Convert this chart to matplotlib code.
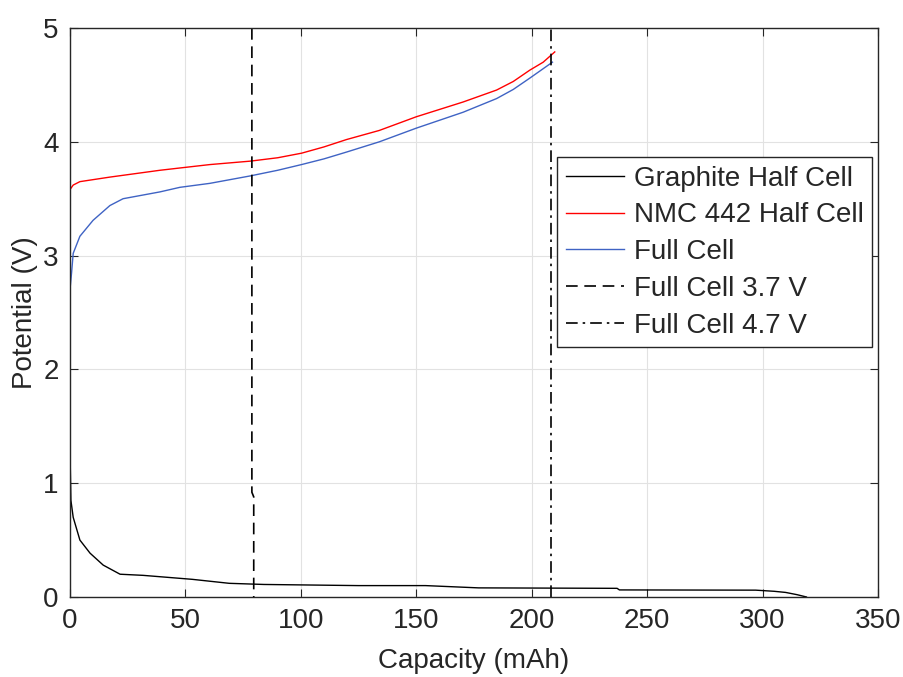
import matplotlib
matplotlib.use('Agg')
import matplotlib.pyplot as plt
import numpy as np

plt.rcParams['font.family'] = ['Liberation Sans', 'DejaVu Sans']

# graphite half cell (capacity in mAh, potential in V)
cap_graphite = [0, 0.4, 1.4, 4.3, 8.7, 14.4, 21.7, 31.7, 53, 69, 84, 125, 154,
                177, 237, 238, 297, 305, 310, 315, 319]
v_graphite = [1.3, 0.85, 0.70, 0.50, 0.385, 0.28, 0.20, 0.19, 0.155, 0.12, 0.11,
              0.10, 0.10, 0.08, 0.076, 0.062, 0.06, 0.05, 0.04, 0.02, 0.0]

# NMC 442 half cell
cap_nmc = [0, 0, 1.4, 4.3, 17.3, 39, 47.6, 60.6, 78, 90, 100.3, 110, 119.8, 134,
           150, 170.3, 184.8, 192, 199.2, 205, 210]
v_nmc = [2.72, 3.58, 3.62, 3.65, 3.69, 3.75, 3.77, 3.80, 3.83, 3.86, 3.90, 3.955,
         4.02, 4.10, 4.22, 4.35, 4.455, 4.53, 4.63, 4.70, 4.79]

# full cell
cap_full = [0, 0, 0.7, 1.4, 4.3, 10, 17.3, 23, 39, 47.6, 60.6, 78, 90, 100.3,
            110, 119.8, 134, 150, 170.3, 184.8, 192, 199.2, 209]
v_full = [1.3, 2.7, 2.85, 3.02, 3.17, 3.31, 3.44, 3.50, 3.56, 3.60, 3.635, 3.70,
          3.75, 3.80, 3.85, 3.91, 4.00, 4.12, 4.26, 4.38, 4.46, 4.56, 4.70]

# cut-off lines
cap_37 = [78.8, 78.8, 79.6, 79.6]
v_37 = [5, 0.92, 0.88, 0]
cap_47 = [208.5, 208.5]
v_47 = [0, 5]

fig = plt.figure(figsize=(9.04, 6.77), dpi=100)
ax = fig.add_axes([0.0774, 0.1182, 0.8938, 0.8404])

ax.plot(cap_graphite, v_graphite, color='black', lw=1.0, label='Graphite Half Cell')
ax.plot(cap_nmc, v_nmc, color='#ff0000', lw=1.0, label='NMC 442 Half Cell')
ax.plot(cap_full, v_full, color='#3f63c4', lw=1.0, label='Full Cell')
ax.plot(cap_37, v_37, color='black', lw=1.2, ls=(0, (7, 4)), label='Full Cell 3.7 V')
ax.plot(cap_47, v_47, color='black', lw=1.2, ls=(0, (7, 3, 1.5, 3)), label='Full Cell 4.7 V')

ax.set_xlim(0, 350)
ax.set_ylim(0, 5)
ax.set_xticks(np.arange(0, 351, 50))
ax.set_yticks(np.arange(0, 6, 1))
ax.grid(True, color='#e2e2e2', lw=0.8)
ax.set_axisbelow(True)

dark = '#262626'
for s in ax.spines.values():
    s.set_color(dark)
    s.set_linewidth(1.0)
ax.tick_params(direction='in', length=6, color=dark, labelcolor=dark,
               labelsize=20, top=True, right=True, pad=8)
ax.set_xlabel('Capacity (mAh)', fontsize=20, color=dark, labelpad=10)
ax.set_ylabel('Potential (V)', fontsize=20, color=dark, labelpad=4)

leg = ax.legend(loc='upper right', bbox_to_anchor=(0.9926, 0.773), fontsize=20,
                frameon=True, fancybox=False, edgecolor=dark, framealpha=1,
                handlelength=2.1, handletextpad=0.35, labelspacing=0.39,
                borderpad=0.3, borderaxespad=0)
leg.get_frame().set_linewidth(1.0)
for t in leg.get_texts():
    t.set_color(dark)

fig.savefig('out.png', dpi=100)
